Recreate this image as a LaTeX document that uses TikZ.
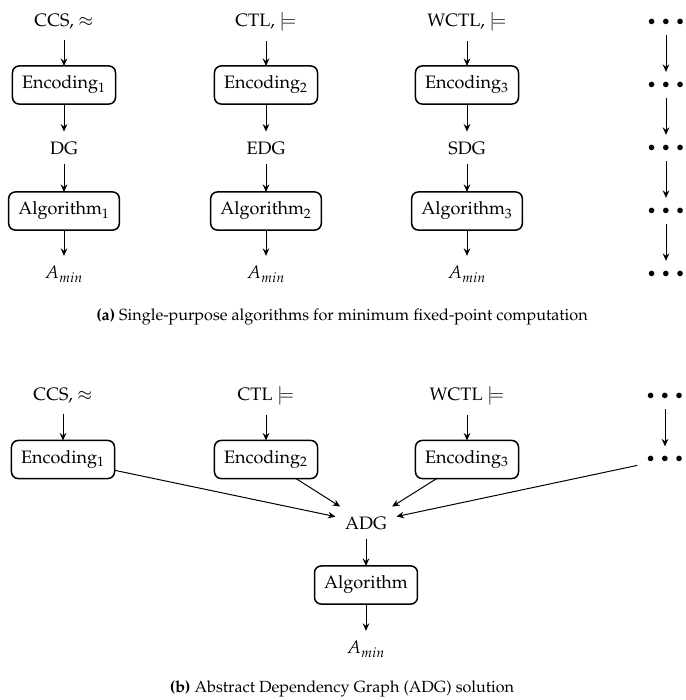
\documentclass[tikz,border=0pt]{standalone}
\usepackage[T1]{fontenc}
\usepackage{mathpazo}
\usetikzlibrary{arrows.meta}

\newcommand{\dotrow}{$\scriptstyle\bullet\mkern9mu\bullet\mkern9mu\bullet$}

\begin{document}
\begin{tikzpicture}[x=0.6pt, y=-0.6pt,
  every node/.style={font=\fontsize{10.8}{13}\selectfont, inner xsep=5.8pt, inner ysep=6pt, outer sep=0pt},
  box/.style={draw, line width=0.9pt, rounded corners=4pt},
  arr/.style={-{Stealth[length=4.5pt, width=4pt, inset=1.5pt]}, line width=0.6pt},
  captext/.style={inner sep=0pt, font=\fontsize{9.7}{11.6}\selectfont}]
\useasboundingbox (0,0) rectangle (686,700);

% ---------- (a) one pipeline per formalism ----------
\node (a1) at (64,22)  {CCS, $\approx$};
\node (a2) at (266,22) {CTL, $\models$};
\node (a3) at (467,22) {WCTL, $\models$};
\node (a4) at (666,22) {\dotrow};

\node[box] (ae1) at (64,85)  {Encoding$_1$};
\node[box] (ae2) at (266,85) {Encoding$_2$};
\node[box] (ae3) at (467,85) {Encoding$_3$};
\node (ae4) at (666,85) {\dotrow};

\node (ag1) at (64,148)  {DG};
\node (ag2) at (266,148) {EDG};
\node (ag3) at (467,148) {SDG};
\node (ag4) at (666,148) {\dotrow};

\node[box] (al1) at (64,211)  {Algorithm$_1$};
\node[box] (al2) at (266,211) {Algorithm$_2$};
\node[box] (al3) at (467,211) {Algorithm$_3$};
\node (al4) at (666,211) {\dotrow};

\node (am1) at (64,274)  {$A_{min}$};
\node (am2) at (266,274) {$A_{min}$};
\node (am3) at (467,274) {$A_{min}$};
\node (am4) at (666,274) {\dotrow};

\foreach \i in {1,2,3,4}{
  \draw[arr] (a\i) -- (ae\i);
  \draw[arr] (ae\i) -- (ag\i);
  \draw[arr] (ag\i) -- (al\i);
  \draw[arr] (al\i) -- (am\i);
}

\node[captext] (capa) at (342,317) {\textbf{(a)} Single-purpose algorithms for minimum fixed-point computation};

% ---------- (b) one shared abstract dependency graph ----------
\node (b1) at (63,396)  {CCS, $\approx$};
\node (b2) at (266,396) {CTL $\models$};
\node (b3) at (467,396) {WCTL $\models$};
\node (b4) at (665,396) {\dotrow};

\node[box] (be1) at (63,459.5)  {Encoding$_1$};
\node[box] (be2) at (266,459.5) {Encoding$_2$};
\node[box] (be3) at (467,459.5) {Encoding$_3$};
\node (be4) at (665,459.5) {\dotrow};

\node (adg) at (366,523) {ADG};
\node[box] (alg) at (366,585) {Algorithm};
\node (amin) at (366,649) {$A_{min}$};

\foreach \i in {1,2,3,4}{
  \draw[arr] (b\i) -- (be\i);
  \draw[arr] (be\i) -- (adg);
}
\draw[arr] (adg) -- (alg);
\draw[arr] (alg) -- (amin);

\node[captext] (capb) at (342,689) {\textbf{(b)} Abstract Dependency Graph (ADG) solution};
\end{tikzpicture}
\end{document}
